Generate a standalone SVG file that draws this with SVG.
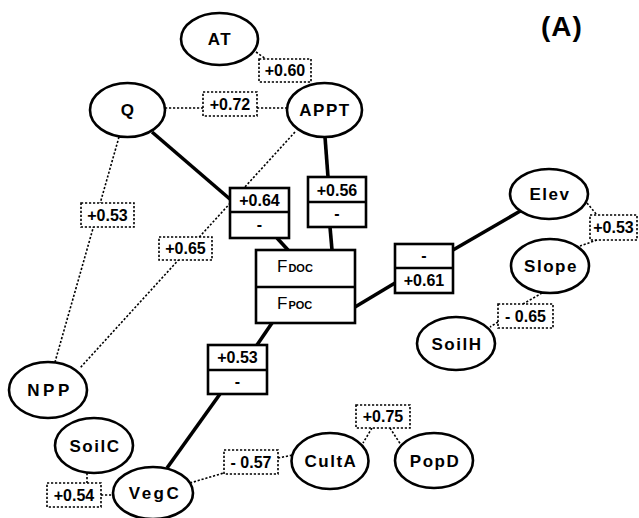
<svg xmlns="http://www.w3.org/2000/svg" width="639" height="518" viewBox="0 0 639 518">
<style>
text{font-family:"Liberation Sans",Arial,sans-serif;fill:#000}
.n ellipse{fill:#fff;stroke:#000;stroke-width:2.6}
.n text{font-size:17px;font-weight:bold;text-anchor:middle;letter-spacing:1.5px}
.d rect{fill:#fff;stroke:#000;stroke-width:1.6;stroke-dasharray:2.2 1.8}
.d text,.b text{font-size:16px;font-weight:bold;text-anchor:middle}
.b rect,.b line{fill:#fff;stroke:#000;stroke-width:2.6}
.solid line{stroke:#000;stroke-width:3.6;stroke-linecap:butt}
.dot line{stroke:#000;stroke-width:1.6;stroke-dasharray:2.2 1.8}
</style>
<rect width="639" height="518" fill="#fff"/>
<g id="connectors">
<g class="dot">
<line x1="256" y1="52" x2="266" y2="59"/>
<line x1="165" y1="108" x2="203" y2="108"/>
<line x1="257" y1="108" x2="287" y2="108"/>
<line x1="119" y1="137" x2="55" y2="362"/>
<line x1="295" y1="132" x2="80" y2="368"/>
<line x1="587" y1="203" x2="597" y2="215"/>
<line x1="597" y1="240" x2="580" y2="246"/>
<line x1="542" y1="293" x2="523" y2="304"/>
<line x1="498" y1="322" x2="490" y2="327"/>
<line x1="87" y1="473" x2="87" y2="483"/>
<line x1="101" y1="495" x2="113" y2="495"/>
<line x1="190" y1="483" x2="227" y2="472"/>
<line x1="278" y1="458" x2="293" y2="455"/>
<line x1="372" y1="428" x2="363" y2="443"/>
<line x1="390" y1="428" x2="401" y2="445"/>
</g>
<g class="solid">
<line x1="152" y1="132" x2="231" y2="200"/>
<line x1="277" y1="238" x2="288" y2="250"/>
<line x1="325" y1="137" x2="328" y2="177"/>
<line x1="330" y1="227" x2="332" y2="250"/>
<line x1="522" y1="210" x2="453" y2="250"/>
<line x1="395" y1="283" x2="355" y2="307"/>
<line x1="272" y1="323" x2="257" y2="345"/>
<line x1="220" y1="394" x2="167" y2="468"/>
</g>
</g>
<g id="AT" class="n"><ellipse cx="219.5" cy="39" rx="38.5" ry="26"/><text x="220" y="45">AT</text></g>
<g id="Q" class="n"><ellipse cx="127.5" cy="110" rx="37.5" ry="27"/><text x="128" y="116">Q</text></g>
<g id="APPT" class="n"><ellipse cx="324.5" cy="110" rx="37.5" ry="27"/><text x="325" y="116">APPT</text></g>
<g id="Elev" class="n"><ellipse cx="549" cy="194" rx="39" ry="25"/><text x="550" y="200">Elev</text></g>
<g id="Slope" class="n"><ellipse cx="550" cy="266" rx="39" ry="27"/><text x="551" y="272">Slope</text></g>
<g id="SoilH" class="n"><ellipse cx="456" cy="343.5" rx="39" ry="26.5"/><text x="457" y="349.5">SoilH</text></g>
<g id="NPP" class="n"><ellipse cx="48" cy="390" rx="39" ry="28"/><text x="50" y="396" style="letter-spacing:3.5px">NPP</text></g>
<g id="SoilC" class="n"><ellipse cx="94" cy="445.5" rx="39" ry="27.5"/><text x="95" y="451.5">SoilC</text></g>
<g id="VegC" class="n"><ellipse cx="153" cy="493" rx="40" ry="26"/><text x="155" y="499" style="letter-spacing:2.5px">VegC</text></g>
<g id="CultA" class="n"><ellipse cx="330" cy="461" rx="38.5" ry="28"/><text x="331" y="467">CultA</text></g>
<g id="PopD" class="n"><ellipse cx="434" cy="460.5" rx="39" ry="27.5"/><text x="435" y="466.5">PopD</text></g>
<g id="r_AT_APPT" class="d"><rect x="259" y="59" width="52" height="23"/><text x="285" y="76">+0.60</text></g>
<g id="r_Q_APPT" class="d"><rect x="203" y="92" width="54" height="24"/><text x="230" y="109.5">+0.72</text></g>
<g id="r_Q_NPP" class="d"><rect x="81" y="203" width="53" height="24"/><text x="107.5" y="220.5">+0.53</text></g>
<g id="r_APPT_NPP" class="d"><rect x="159" y="237" width="53" height="23"/><text x="185.5" y="254">+0.65</text></g>
<g id="r_Elev_Slope" class="d"><rect x="590" y="215" width="47" height="25"/><text x="613.5" y="233">+0.53</text></g>
<g id="r_Slope_SoilH" class="d"><rect x="498" y="304" width="55" height="24"/><text x="525.5" y="321.5">- 0.65</text></g>
<g id="r_SoilC_VegC" class="d"><rect x="47" y="483" width="54" height="24"/><text x="74" y="500.5">+0.54</text></g>
<g id="r_VegC_CultA" class="d"><rect x="224" y="450" width="54" height="24"/><text x="251" y="467.5">- 0.57</text></g>
<g id="r_CultA_PopD" class="d"><rect x="356" y="405" width="54" height="23"/><text x="383" y="422">+0.75</text></g>
<g id="b_Q" class="b"><rect x="230" y="188" width="59" height="50"/><line x1="230" y1="212" x2="289" y2="212"/><text x="259.5" y="206">+0.64</text><text x="259.5" y="230">-</text></g>
<g id="b_APPT" class="b"><rect x="308" y="177" width="58" height="50"/><line x1="308" y1="202" x2="366" y2="202"/><text x="337" y="195.5">+0.56</text><text x="337" y="219">-</text></g>
<g id="b_Elev" class="b"><rect x="395" y="244" width="58" height="49"/><line x1="395" y1="268" x2="453" y2="268"/><text x="424" y="261">-</text><text x="424" y="286">+0.61</text></g>
<g id="b_VegC" class="b"><rect x="208" y="345" width="59" height="49"/><line x1="208" y1="370" x2="267" y2="370"/><text x="237.5" y="363">+0.53</text><text x="237.5" y="387">-</text></g>
<g id="F" class="b"><rect x="256" y="250" width="99" height="73"/><line x1="256" y1="287" x2="355" y2="287"/>
<text x="277" y="272" style="text-anchor:start;font-weight:normal;font-size:17px">F<tspan dx="1" style="font-size:11px;font-weight:bold">DOC</tspan></text>
<text x="277" y="309" style="text-anchor:start;font-weight:normal;font-size:17px">F<tspan dx="1" style="font-size:11px;font-weight:bold">POC</tspan></text></g>
<text id="label" x="541" y="36" style="font-size:28px;font-weight:bold;letter-spacing:1px">(A)</text>
</svg>
